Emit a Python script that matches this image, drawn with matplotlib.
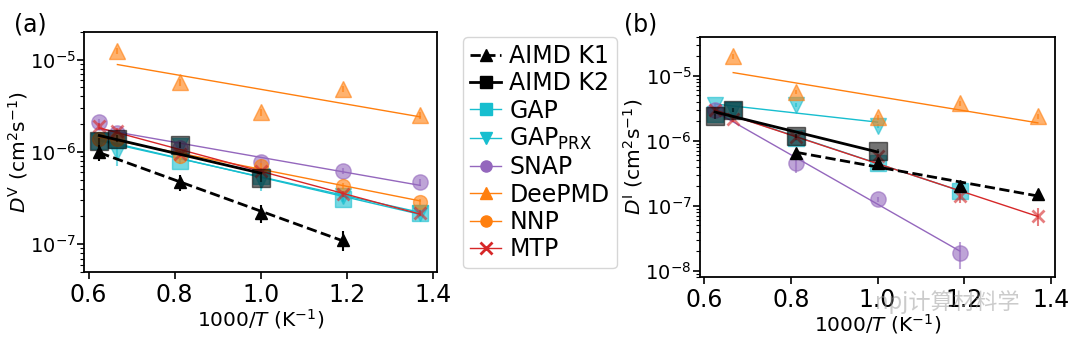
import matplotlib
matplotlib.use('Agg')
import matplotlib.pyplot as plt
from matplotlib.lines import Line2D
import numpy as np

# inverse temperatures 1000/T
x_all = [0.625, 0.667, 0.813, 1.0, 1.19, 1.37]

# panel (a): vacancy diffusivity D^V (cm^2/s)
k1_a_x = [0.625, 0.813, 1.0, 1.19]
k1_a_y = [1.0e-6, 4.7e-7, 2.2e-7, 1.12e-7]
k1_a_err = [0.2, 0.2, 0.22, 0.25]
k2_a_x = [0.625, 0.667, 0.813, 1.0]
k2_a_y = [1.3e-6, 1.4e-6, 1.2e-6, 5.2e-7]
gap_a_y = [1.3e-6, 1.35e-6, 8.0e-7, 5.5e-7, 3.1e-7, 2.2e-7]
gapprx_a_y = [1.3e-6, 1.0e-6, 1.15e-6, 5.0e-7, 3.3e-7, 2.2e-7]
gapprx_a_err = [0.1, 0.3, 0.15, 0.25, 0.1, 0.1]
snap_a_y = [2.1e-6, 1.6e-6, 1.1e-6, 7.8e-7, 6.2e-7, 4.7e-7]
deepmd_a_x = [0.667, 0.813, 1.0, 1.19, 1.37]
deepmd_a_y = [1.25e-5, 5.7e-6, 2.7e-6, 4.8e-6, 2.5e-6]
nnp_a_y = [1.4e-6, 1.4e-6, 9.0e-7, 7.0e-7, 4.3e-7, 2.9e-7]
mtp_a_y = [1.9e-6, 1.7e-6, 9.5e-7, 6.2e-7, 3.5e-7, 2.2e-7]

# panel (b): interstitial diffusivity D^I (cm^2/s)
k1_b_x = [0.813, 1.0, 1.19, 1.37]
k1_b_y = [6.4e-7, 4.5e-7, 2.0e-7, 1.5e-7]
k2_b_x = [0.625, 0.667, 0.813, 1.0]
k2_b_y = [2.4e-6, 3.0e-6, 1.2e-6, 7.0e-7]
gap_b_x = [0.625, 0.667, 0.813, 1.0, 1.19]
gap_b_y = [2.6e-6, 3.0e-6, 1.1e-6, 4.5e-7, 1.7e-7]
gapprx_b_x = [0.625, 0.667, 0.813, 1.0]
gapprx_b_y = [3.6e-6, 3.0e-6, 3.6e-6, 1.7e-6]
snap_b_x = [0.625, 0.813, 1.0, 1.19]
snap_b_y = [3.0e-6, 4.6e-7, 1.25e-7, 1.9e-8]
snap_b_err = [0.1, 0.3, 0.1, 0.45]
deepmd_b_x = [0.667, 0.813, 1.0, 1.19, 1.37]
deepmd_b_y = [2.0e-5, 5.7e-6, 2.3e-6, 3.8e-6, 2.4e-6]
mtp_b_y = [3.0e-6, 2.2e-6, 1.15e-6, 5.8e-7, 1.4e-7, 7.0e-8]
mtp_b_err = [0.1, 0.1, 0.1, 0.1, 0.2, 0.3]

labels = ['AIMD K1', 'AIMD K2', 'GAP', 'GAP$_{\\mathrm{PRX}}$', 'SNAP', 'DeePMD', 'NNP', 'MTP']

C_CYAN = '#17becf'
C_PURPLE = '#9467bd'
C_ORANGE = '#ff7f0e'
C_RED = '#d62728'

styles = {
    'AIMD K1': dict(color='k', marker='^', ls='--', lw=2.0, ms=9),
    'AIMD K2': dict(color='k', marker='s', ls='-', lw=2.0, ms=13),
    'GAP': dict(color=C_CYAN, marker='s', ls='-', lw=1.0, ms=12),
    'GAPPRX': dict(color=C_CYAN, marker='v', ls='-', lw=1.0, ms=11),
    'SNAP': dict(color=C_PURPLE, marker='o', ls='-', lw=1.0, ms=11),
    'DeePMD': dict(color=C_ORANGE, marker='^', ls='-', lw=1.0, ms=12),
    'NNP': dict(color=C_ORANGE, marker='o', ls='-', lw=1.0, ms=10),
    'MTP': dict(color=C_RED, marker='x', ls='-', lw=1.0, ms=9),
}


def plot_series(ax, key, x, y, err=None, alpha=0.6):
    st = styles[key]
    x = np.asarray(x)
    y = np.asarray(y)
    if err is None:
        err = [0.08] * len(x)
    yerr = np.asarray(err) * y
    ax.errorbar(x, y, yerr=yerr, fmt='none', ecolor=st['color'], elinewidth=1.5, alpha=alpha)
    ax.plot(x, y, ls='none', marker=st['marker'], ms=st['ms'], color=st['color'],
            mec=st['color'], mew=2 if st['marker'] == 'x' else 1, alpha=alpha)
    # Arrhenius fit in log space
    p = np.polyfit(x, np.log10(y), 1)
    xf = np.array([x.min(), x.max()])
    ax.plot(xf, 10 ** np.polyval(p, xf), color=st['color'], ls=st['ls'], lw=st['lw'])


def style_axis(ax, ylim, ylabel):
    ax.set_yscale('log')
    ax.set_xlim(0.59, 1.41)
    ax.set_ylim(*ylim)
    ax.set_xticks([0.6, 0.8, 1.0, 1.2, 1.4])
    ax.set_xticklabels(['0.6', '0.8', '1.0', '1.2', '1.4'])
    ax.tick_params(axis='x', which='major', labelsize=17, length=5, width=1.2, pad=3)
    ax.tick_params(axis='y', which='major', labelsize=14, length=5, width=1.2, pad=1)
    ax.tick_params(axis='y', which='minor', length=3, width=0.8)
    ax.set_xlabel('1000/$T$ (K$^{-1}$)', fontsize=14.5, labelpad=0)
    ax.set_ylabel(ylabel, fontsize=14.5, labelpad=0)
    for s in ax.spines.values():
        s.set_linewidth(1.3)


fig = plt.figure(figsize=(10.8, 3.51), dpi=100)
ax_a = fig.add_axes([0.078, 0.225, 0.327, 0.684])
ax_b = fig.add_axes([0.648, 0.211, 0.329, 0.684])

# panel (a)
plot_series(ax_a, 'GAP', x_all, gap_a_y)
plot_series(ax_a, 'GAPPRX', x_all, gapprx_a_y, gapprx_a_err)
plot_series(ax_a, 'SNAP', x_all, snap_a_y)
plot_series(ax_a, 'DeePMD', deepmd_a_x, deepmd_a_y)
plot_series(ax_a, 'NNP', x_all, nnp_a_y)
plot_series(ax_a, 'MTP', x_all, mtp_a_y)
plot_series(ax_a, 'AIMD K2', k2_a_x, k2_a_y, alpha=0.55)
plot_series(ax_a, 'AIMD K1', k1_a_x, k1_a_y, k1_a_err, alpha=1.0)
style_axis(ax_a, (5e-8, 2e-5), '$D^{\\mathrm{V}}$ (cm$^2$s$^{-1}$)')

# panel (b)
plot_series(ax_b, 'GAP', gap_b_x, gap_b_y)
plot_series(ax_b, 'GAPPRX', gapprx_b_x, gapprx_b_y)
plot_series(ax_b, 'SNAP', snap_b_x, snap_b_y, snap_b_err)
plot_series(ax_b, 'DeePMD', deepmd_b_x, deepmd_b_y)
plot_series(ax_b, 'MTP', x_all, mtp_b_y, mtp_b_err)
plot_series(ax_b, 'AIMD K2', k2_b_x, k2_b_y, alpha=0.55)
plot_series(ax_b, 'AIMD K1', k1_b_x, k1_b_y, alpha=1.0)
style_axis(ax_b, (8e-9, 4e-5), '$D^{\\mathrm{I}}$ (cm$^2$s$^{-1}$)')

fig.text(0.013, 0.91, '(a)', fontsize=17)
fig.text(0.578, 0.91, '(b)', fontsize=17)

# legend
handles = []
for key in ['AIMD K1', 'AIMD K2', 'GAP', 'GAPPRX', 'SNAP', 'DeePMD', 'NNP', 'MTP']:
    st = styles[key]
    handles.append(Line2D([], [], color=st['color'], ls=st['ls'], lw=st['lw'],
                          marker=st['marker'], ms=8, mew=2 if st['marker'] == 'x' else 1))
fig.legend(handles, labels, loc='upper left', bbox_to_anchor=(0.429, 0.895),
           fontsize=17, handlelength=1.3, handletextpad=0.35, labelspacing=0.14,
           borderpad=0.3, borderaxespad=0, frameon=True, fancybox=True, edgecolor='0.8')

# watermark
fig.text(0.81, 0.12, 'npj计算材料学', fontsize=16, color='0.6', alpha=0.5,
         family=['Noto Sans CJK SC', 'DejaVu Sans'])

fig.savefig('out.png', dpi=100)
